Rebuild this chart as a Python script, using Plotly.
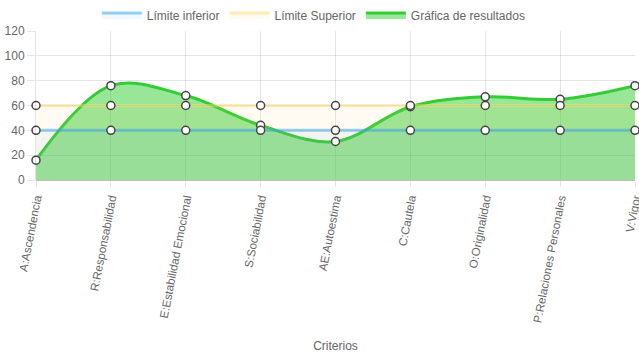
import plotly.graph_objects as go

categorias = ["A:Ascendencia", "R:Responsabilidad", "E:Estabilidad Emocional",
              "S:Sociabilidad", "AE:Autoestima", "C:Cautela", "O:Originalidad",
              "P:Relaciones Personales", "V:Vigor"]
limite_inferior = [40, 40, 40, 40, 40, 40, 40, 40, 40]
limite_superior = [60, 60, 60, 60, 60, 60, 60, 60, 60]
resultados = [16, 76, 68, 44, 31, 59, 67, 65, 76]
y_ticks = [0, 20, 40, 60, 80, 100, 120]

FONT = "Liberation Sans, Arial, Helvetica, sans-serif"
marker = dict(size=8, color="white", line=dict(color="#444", width=1.5))

series = [
    ("Gráfica de resultados", resultados, "rgb(50,205,50)", "rgba(50,205,50,0.5)", "spline", 3),
    ("Límite Superior", limite_superior, "rgba(255,215,100,0.45)", "rgba(255,205,86,0.08)", "linear", 2),
    ("Límite inferior", limite_inferior, "rgba(54,162,235,0.5)", "rgba(54,162,235,0.07)", "linear", 1),
]

fig = go.Figure()
for name, vals, lc, fc, shape, rank in series:
    fig.add_trace(go.Scatter(
        x=categorias, y=vals, name=name, mode="lines", fill="tozeroy",
        fillcolor=fc, line=dict(color=lc, width=3, shape=shape, smoothing=1),
        cliponaxis=False, showlegend=True, legendrank=rank, hoverinfo="skip"))
for name, vals, lc, fc, shape, rank in series:
    fig.add_trace(go.Scatter(
        x=categorias, y=vals, name=name, mode="markers", marker=marker,
        showlegend=False, cliponaxis=False))

fig.update_layout(
    width=639, height=360,
    margin=dict(l=36, r=4, t=31, b=180, autoexpand=False),
    paper_bgcolor="white", plot_bgcolor="white",
    font=dict(family=FONT, size=12, color="#666"),
    showlegend=True,
    legend=dict(orientation="h", xref="container", x=0.491, xanchor="center",
                y=1.107, yanchor="middle",
                font=dict(size=12, color="#666"), itemwidth=40,
                bgcolor="rgba(0,0,0,0)"),
    xaxis=dict(type="category", range=[0, len(categorias) - 1],
               showgrid=True, gridcolor="rgba(0,0,0,0.1)",
               tickangle=-79, ticks="outside", ticklen=6, tickcolor="rgba(0,0,0,0.1)",
               showline=False, zeroline=False, automargin=False,
               tickfont=dict(size=11.6, color="#666"),
               title=dict(text="Criterios", font=dict(size=12, color="#666"), standoff=18)),
    yaxis=dict(range=[0, 120], tickvals=y_ticks, showgrid=True,
               gridcolor="rgba(0,0,0,0.1)", ticks="outside", ticklen=8,
               tickcolor="rgba(0,0,0,0.1)", zeroline=True, zerolinecolor="rgba(0,0,0,0.25)",
               zerolinewidth=1, showline=True, linecolor="rgba(0,0,0,0.1)",
               automargin=False, tickfont=dict(size=12, color="#666")),
)

fig.write_html("out.html", config={"displayModeBar": False},
               post_script="document.body.style.margin='0';document.body.style.overflow='hidden';")
